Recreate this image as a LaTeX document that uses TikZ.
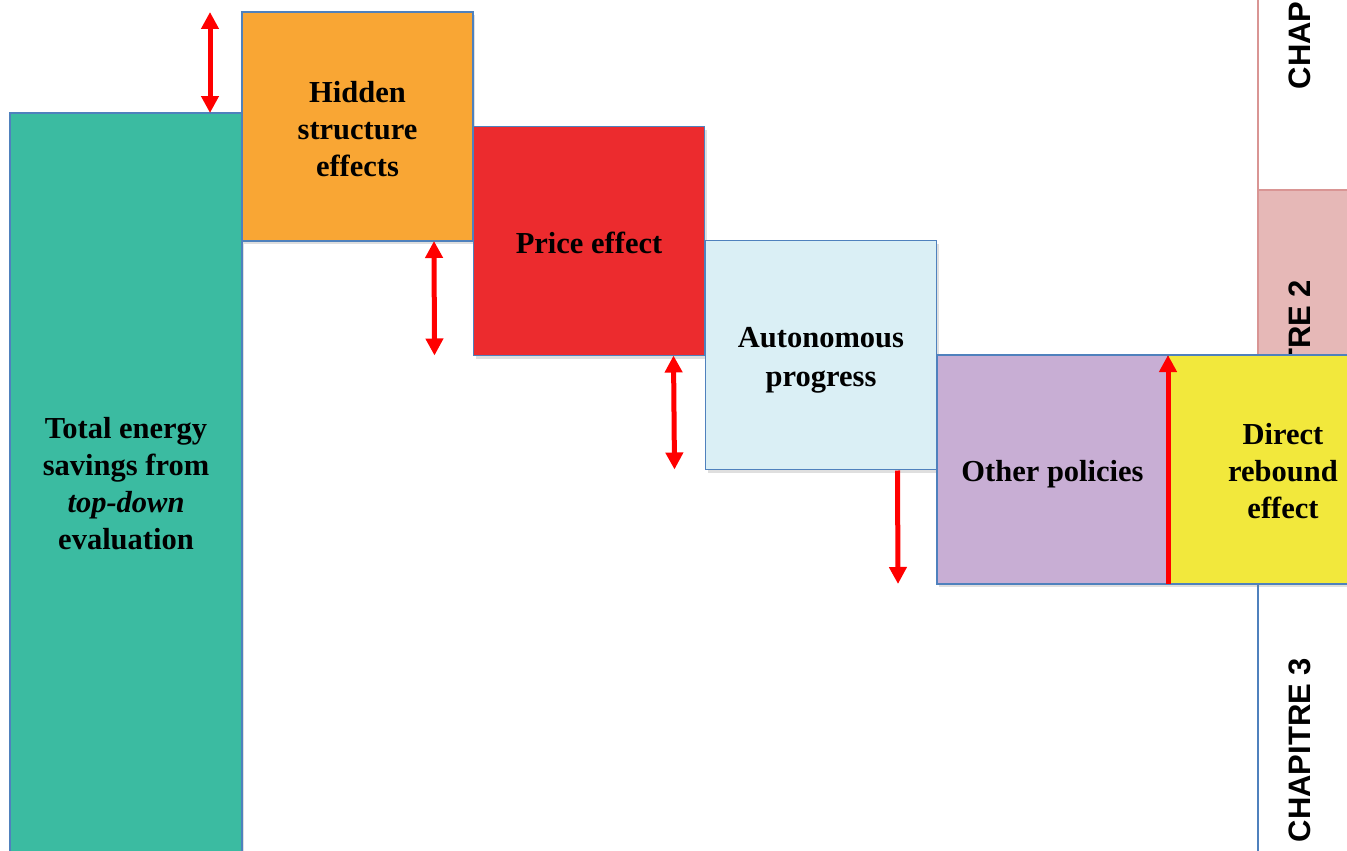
\documentclass[tikz,border=0pt]{standalone}
\usepackage{fontspec}
\setmainfont{Liberation Serif}
\newfontfamily\chapfont{Liberation Sans}
\usetikzlibrary{arrows.meta,shadows}
\definecolor{boxborder}{RGB}{79,129,189}
\definecolor{cteal}{RGB}{59,187,161}
\definecolor{corange}{RGB}{249,166,52}
\definecolor{cred}{RGB}{236,43,46}
\definecolor{clblue}{RGB}{218,239,245}
\definecolor{cpurple}{RGB}{200,174,212}
\definecolor{cyellow}{RGB}{242,232,60}
\definecolor{cpink}{RGB}{230,184,183}
\definecolor{cpinkborder}{RGB}{217,149,148}
\definecolor{carrow}{RGB}{255,0,0}
\tikzset{
  effbox/.style={draw=boxborder, line width=1.5pt, inner sep=0pt, outer sep=0pt,
    minimum width=231pt, minimum height=229pt,
    drop shadow={opacity=0.25, shadow xshift=2pt, shadow yshift=-3pt}},
  efftext/.style={align=center, inner sep=0pt,
    font=\fontsize{30.5}{37}\selectfont\bfseries},
  chaptext/.style={rotate=90, font=\chapfont\fontsize{31}{37}\selectfont\bfseries, inner sep=0pt},
  redarrow/.style={draw=carrow, line width=5pt, -{Triangle[width=17pt,length=17pt]}},
  reddouble/.style={draw=carrow, line width=5pt, {Triangle[width=17pt,length=17pt]}-{Triangle[width=17pt,length=17pt]}}
}
\begin{document}
\begin{tikzpicture}[x=1pt,y=-1pt]
\useasboundingbox (0,0) rectangle (1347,851);
\clip (0,0) rectangle (1347,851);
% chapter column
\draw[cpinkborder, line width=1.5pt, fill=white] (1258,-300) rectangle (1440,190);
\node[chaptext] (ch1) at (1300,-3) {CHAPITRE 1};
\draw[cpinkborder, line width=1.5pt, fill=cpink] (1258,190) rectangle (1440,560);
\node[chaptext] (ch2) at (1300,372) {CHAPITRE 2};
\draw[boxborder, line width=1.5pt, fill=white] (1258,584) rectangle (1440,1000);
\node[chaptext] (ch3) at (1300,750) {CHAPITRE 3};
% boxes
\node[effbox, fill=cteal, minimum width=232pt, minimum height=742pt] (teal) at (126,484) {};
\node[efftext] (tealtxt) at (126,484) {Total energy\\savings from\\\textit{top-down}\\evaluation};
\node[effbox, fill=corange] (orange) at (357.5,126.5) {};
\node[efftext] (orangetxt) at ([yshift=-3pt]orange.center) {Hidden\\structure\\effects};
\node[effbox, fill=cred] (red) at (589,241) {};
\node[efftext] (redtxt) at ([yshift=-2pt]red.center) {Price effect};
\node[effbox, fill=clblue] (lblue) at (821,355) {};
\node[efftext, font=\fontsize{30.5}{39}\selectfont\bfseries] (lbluetxt) at ([yshift=-5pt]lblue.center) {Autonomous\\progress};
\node[effbox, fill=cpurple] (purple) at (1052.5,469.5) {};
\node[efftext] (purpletxt) at ([yshift=-5pt]purple.center) {Other policies};
\node[effbox, fill=cyellow, minimum width=230pt] (yellow) at (1283,469.5) {};
\node[efftext] (yellowtxt) at ([yshift=-2pt]yellow.center) {Direct\\rebound\\effect};
% arrows
\draw[reddouble] ([xshift=-32pt]orange.north west) -- ([xshift=-32pt]teal.north east);
\draw[reddouble] ([xshift=-39pt]orange.south east) -- ([xshift=-39pt]red.south west);
\draw[reddouble] ([xshift=-31pt]red.south east) -- ([xshift=-31pt]lblue.south west);
\draw[redarrow] ([xshift=-39pt,yshift=-1pt]lblue.south east) -- ([xshift=-39pt]purple.south west);
\draw[redarrow] (purple.south east) -- (purple.north east);
\end{tikzpicture}
\end{document}
